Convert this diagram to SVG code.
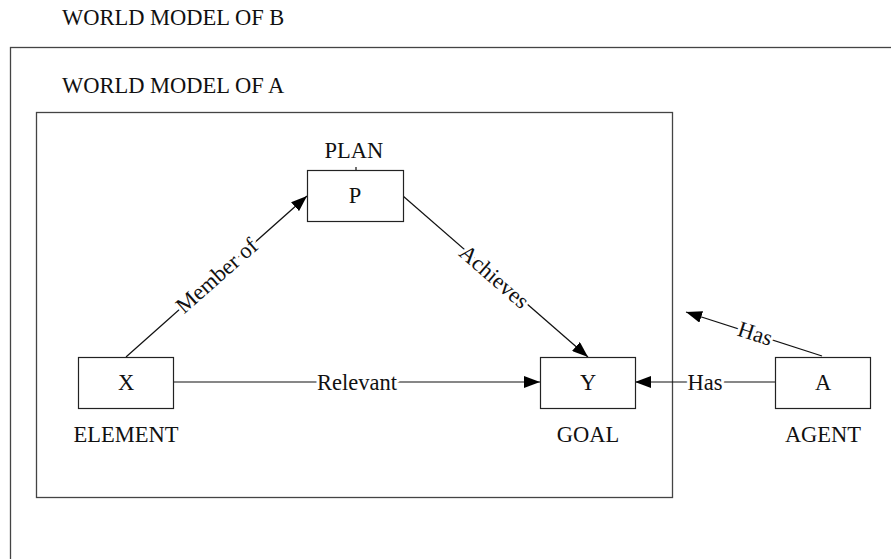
<svg xmlns="http://www.w3.org/2000/svg" width="891" height="559" viewBox="0 0 891 559">
<defs>
<marker id="arr" viewBox="0 0 16 12" refX="16" refY="6" markerWidth="16" markerHeight="12" markerUnits="userSpaceOnUse" orient="auto">
<path d="M0,0 L16,6 L0,12 z" fill="#000"/>
</marker>
<style>
text{font-family:"Liberation Serif","Times New Roman",serif;font-size:22.5px;fill:#111}
.c{text-anchor:middle}
.frame{fill:none;stroke:#444;stroke-width:1.3}
.box{fill:#fff;stroke:#222;stroke-width:1.2}
.edge{fill:none;stroke:#111;stroke-width:1.2}
.lbl{text-anchor:middle;stroke:#fff;stroke-width:6;paint-order:stroke;stroke-linejoin:round}
</style>
</defs>
<rect width="891" height="559" fill="#fff"/>
<g id="worldB">
<rect class="frame" x="10.5" y="47.5" width="900" height="600"/>
<text x="62" y="25">WORLD MODEL OF B</text>
</g>
<g id="worldA">
<rect class="frame" x="36.5" y="112.5" width="636" height="385"/>
<text x="62" y="93">WORLD MODEL OF A</text>
</g>
<g id="connectors">
<line class="edge" x1="126" y1="357" x2="307" y2="196" marker-end="url(#arr)"/>
<text class="lbl" transform="translate(217,276) rotate(-41.5)" y="7">Member of</text>
<line class="edge" x1="403" y1="196" x2="588" y2="357" marker-end="url(#arr)"/>
<text class="lbl" transform="translate(494,277) rotate(41)" y="7">Achieves</text>
<line class="edge" x1="173" y1="382" x2="540" y2="382" marker-end="url(#arr)"/>
<text class="lbl" x="357" y="390">Relevant</text>
<line class="edge" x1="775" y1="382" x2="635" y2="382" marker-end="url(#arr)"/>
<text class="lbl" x="705" y="390">Has</text>
<line class="edge" x1="822" y1="356" x2="686" y2="312" marker-end="url(#arr)"/>
<text class="lbl" transform="translate(755,334) rotate(18)" y="7">Has</text>
<line class="edge" x1="356" y1="167" x2="356" y2="170"/>
</g>
<g id="nodeP">
<rect class="box" x="307.5" y="170.5" width="96" height="51"/>
<text class="c" x="355" y="203">P</text>
<text class="c" x="354" y="158">PLAN</text>
</g>
<g id="nodeX">
<rect class="box" x="78.5" y="357.5" width="95" height="51"/>
<text class="c" x="126" y="390">X</text>
<text class="c" x="126" y="442">ELEMENT</text>
</g>
<g id="nodeY">
<rect class="box" x="540.5" y="357.5" width="95" height="51"/>
<text class="c" x="588" y="390">Y</text>
<text class="c" x="588" y="442">GOAL</text>
</g>
<g id="nodeA">
<rect class="box" x="775.5" y="357.5" width="95" height="51"/>
<text class="c" x="823" y="390">A</text>
<text class="c" x="823" y="442">AGENT</text>
</g>
</svg>
